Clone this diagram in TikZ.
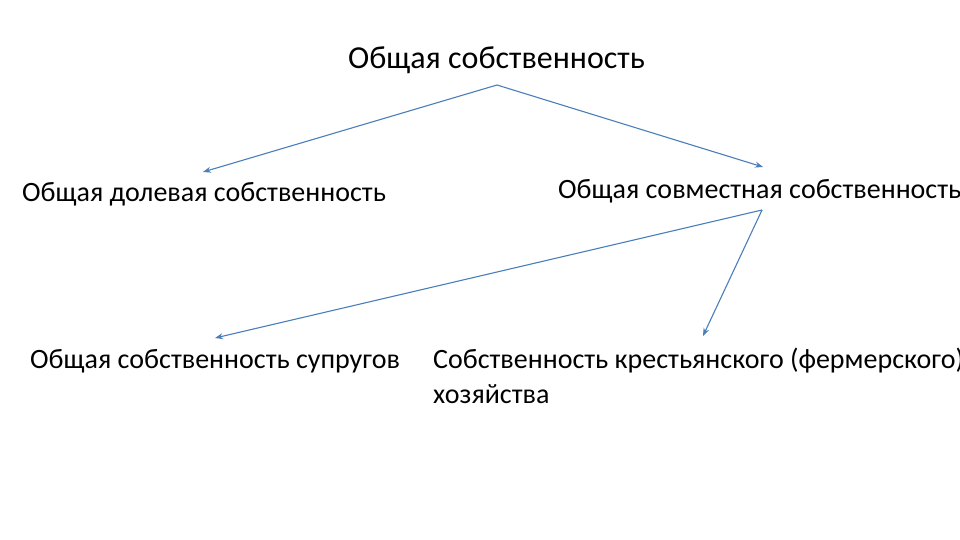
\documentclass[tikz,border=0pt]{standalone}
\usepackage{fontspec}
\setmainfont{Carlito}
\usetikzlibrary{arrows.meta}
\definecolor{arrowblue}{RGB}{74,126,187}
\tikzset{
  lbl/.style={anchor=base west, inner sep=0pt, font=\fontsize{28}{35}\selectfont},
  conn/.style={draw=arrowblue, line width=1.1pt, -{Stealth[length=8pt,width=6pt]}}
}
\begin{document}
\begin{tikzpicture}[x=1pt,y=-1pt]
\useasboundingbox (0,0) rectangle (960,540);
\clip (0,0) rectangle (960,540);
\node[lbl, font=\fontsize{32}{38}\selectfont] (root) at (348,69) {Общая собственность};
\node[lbl] (shared) at (22,201) {Общая долевая собственность};
\node[lbl] (joint) at (558,198) {Общая совместная собственность};
\node[lbl] (spouse) at (30,368) {Общая собственность супругов};
\node[lbl, align=left] (farm) at (433,403) {Собственность крестьянского (фермерского)\\хозяйства};
\coordinate (rootb) at (497,85);
\coordinate (jointb) at (762,210);
\coordinate (sharedt) at (203,172);
\coordinate (jointt) at (763,167);
\coordinate (spouset) at (215,338);
\coordinate (farmt) at (703,336);
\draw[conn] (rootb) -- (sharedt);
\draw[conn] (rootb) -- (jointt);
\draw[conn] (jointb) -- (spouset);
\draw[conn] (jointb) -- (farmt);
\end{tikzpicture}
\end{document}
